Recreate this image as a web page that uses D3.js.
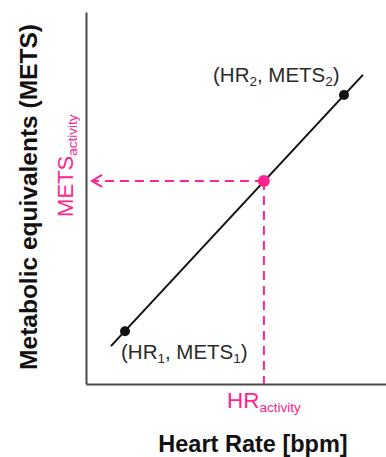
<!DOCTYPE html>
<html>
<head>
<meta charset="utf-8">
<script src="https://cdn.jsdelivr.net/npm/d3@7"></script>
<style>
html,body{margin:0;padding:0;background:#fff;}
svg{display:block;font-family:"Liberation Sans",Arial,sans-serif;}
</style>
</head>
<body>
<svg id="chart" width="386" height="457"></svg>
<script>
// ---- data (arbitrary units 0-100) ----
const calibHR = [13, 86];            // HR1, HR2
const calibMETS = [14.2, 77.7];      // METS1, METS2
const calibSub = ["1", "2"];
const lineHR = [8.3, 92.3];          // regression line ends
const lineMETS = [10.2, 83.1];
const activityHR = [59.3];
const activityMETS = [54.6];
const xTitle = "Heart Rate [bpm]";
const yTitle = "Metabolic equivalents (METS)";

const W = 386, H = 457;
const margin = {left: 86, right: 0, top: 12, bottom: 73};
const pink = "#ff2490";
const svg = d3.select("#chart");

const x = d3.scaleLinear().domain([0, 100]).range([margin.left, W - margin.right]);
const y = d3.scaleLinear().domain([0, 100]).range([H - margin.bottom, margin.top]);

// axes (no ticks)
const gx = svg.append("g").attr("transform", `translate(0,${y(0)})`)
  .call(d3.axisBottom(x).tickValues([]).tickSizeOuter(0));
const gy = svg.append("g").attr("transform", `translate(${x(0)},0)`)
  .call(d3.axisLeft(y).tickValues([]).tickSizeOuter(0));
[gx, gy].forEach(g => g.select(".domain").attr("stroke", "#4a4a4a").attr("stroke-width", 2));

// dashed guide lines
svg.append("line")
  .attr("x1", x(activityHR[0])).attr("x2", x(activityHR[0]))
  .attr("y1", y(activityMETS[0])).attr("y2", y(0))
  .attr("stroke", pink).attr("stroke-width", 2).attr("stroke-dasharray", "9,6");
svg.append("line")
  .attr("x1", x(activityHR[0])).attr("x2", x(0) + 7)
  .attr("y1", y(activityMETS[0])).attr("y2", y(activityMETS[0]))
  .attr("stroke", pink).attr("stroke-width", 2).attr("stroke-dasharray", "9,6");
// arrow head
const ax = x(0) + 6, ay = y(activityMETS[0]);
svg.append("path")
  .attr("d", `M${ax + 10},${ay - 6}L${ax},${ay}L${ax + 10},${ay + 6}`)
  .attr("fill", "none").attr("stroke", pink).attr("stroke-width", 2);

// regression line
svg.append("path")
  .datum(lineHR.map((h, i) => [h, lineMETS[i]]))
  .attr("d", d3.line().x(d => x(d[0])).y(d => y(d[1])))
  .attr("fill", "none").attr("stroke", "#111").attr("stroke-width", 2);

// calibration points
svg.selectAll("circle.cal").data(calibHR).join("circle")
  .attr("class", "cal")
  .attr("cx", d => x(d)).attr("cy", (d, i) => y(calibMETS[i]))
  .attr("r", 5).attr("fill", "#111");

// activity point
svg.append("circle")
  .attr("cx", x(activityHR[0])).attr("cy", y(activityMETS[0]))
  .attr("r", 6).attr("fill", pink);

// point labels
function pointLabel(px, py, sub) {
  const t = svg.append("text").attr("x", px).attr("y", py)
    .attr("font-size", 20.5).attr("fill", "#2a2a2a");
  t.append("tspan").text("(HR");
  t.append("tspan").attr("font-size", 13.5).attr("dy", 4).text(sub);
  t.append("tspan").attr("dy", -4).text(", METS");
  t.append("tspan").attr("font-size", 13.5).attr("dy", 4).text(sub);
  t.append("tspan").attr("dy", -4).text(")");
}
pointLabel(x(calibHR[0]) - 4, y(calibMETS[0]) + 28, calibSub[0]);
pointLabel(x(calibHR[1]) - 131, y(calibMETS[1]) - 13, calibSub[1]);

// HR_activity label
const hrT = svg.append("text").attr("x", x(activityHR[0]) - 37).attr("y", y(0) + 24)
  .attr("font-size", 22.5).attr("fill", pink);
hrT.append("tspan").text("HR");
hrT.append("tspan").attr("font-size", 13.5).attr("dy", 4).text("activity");

// METS_activity label (rotated)
const mT = svg.append("text")
  .attr("transform", `translate(${x(0) - 13},${y(activityMETS[0]) + 36}) rotate(-90)`)
  .attr("font-size", 22).attr("fill", pink);
mT.append("tspan").text("METS");
mT.append("tspan").attr("font-size", 13.5).attr("dy", 4).text("activity");

// axis titles
svg.append("text").attr("x", 253).attr("y", 452)
  .attr("text-anchor", "middle").attr("font-size", 23.5).attr("font-weight", "bold")
  .attr("fill", "#111").text(xTitle);
svg.append("text").attr("transform", `translate(37,197) rotate(-90)`)
  .attr("text-anchor", "middle").attr("font-size", 24.5).attr("font-weight", "bold")
  .attr("fill", "#111").text(yTitle);
</script>
</body>
</html>
